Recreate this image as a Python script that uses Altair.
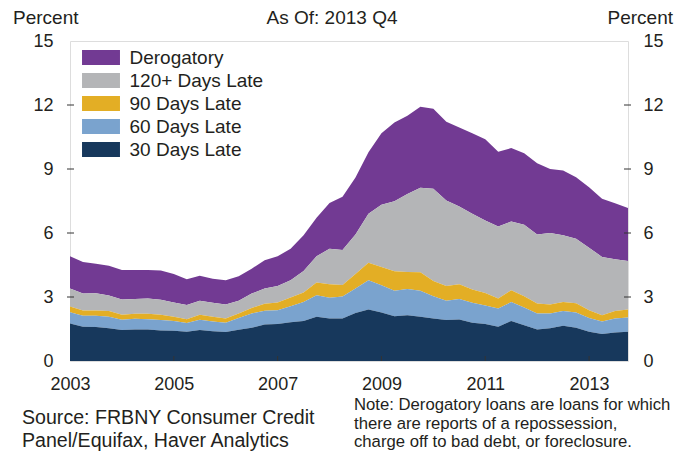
import altair as alt
import pandas as pd

# ---------------- data ----------------
years = list(range(2003, 2014))
quarters = [f"{y}Q{q}" for y in years for q in range(1, 5)]

days30 = [1.76, 1.60, 1.59, 1.54, 1.45, 1.48, 1.48, 1.43, 1.42, 1.37, 1.45,
          1.39, 1.36, 1.46, 1.56, 1.71, 1.73, 1.82, 1.88, 2.07, 1.99, 1.99,
          2.25, 2.41, 2.27, 2.10, 2.15, 2.07, 1.99, 1.92, 1.95, 1.79, 1.73,
          1.60, 1.88, 1.68, 1.48, 1.53, 1.65, 1.56, 1.37, 1.26, 1.34, 1.37]
days60 = [0.53, 0.52, 0.53, 0.53, 0.48, 0.50, 0.48, 0.49, 0.45, 0.41, 0.48,
          0.46, 0.43, 0.55, 0.67, 0.64, 0.65, 0.75, 0.89, 1.01, 0.97, 1.03,
          1.15, 1.38, 1.28, 1.19, 1.23, 1.22, 1.05, 0.90, 0.96, 0.94, 0.87,
          0.86, 0.88, 0.83, 0.75, 0.70, 0.69, 0.71, 0.65, 0.59, 0.65, 0.67]
days90 = [0.26, 0.25, 0.25, 0.27, 0.24, 0.23, 0.25, 0.25, 0.20, 0.18, 0.24,
          0.22, 0.20, 0.22, 0.26, 0.33, 0.36, 0.41, 0.44, 0.60, 0.64, 0.54,
          0.68, 0.82, 0.86, 0.92, 0.79, 0.87, 0.71, 0.70, 0.69, 0.62, 0.59,
          0.47, 0.56, 0.53, 0.46, 0.42, 0.42, 0.44, 0.36, 0.30, 0.35, 0.37]
days120 = [0.85, 0.79, 0.81, 0.73, 0.71, 0.70, 0.72, 0.70, 0.67, 0.66, 0.65,
           0.66, 0.66, 0.59, 0.67, 0.72, 0.78, 0.81, 1.01, 1.23, 1.66, 1.64,
           1.85, 2.29, 2.91, 3.28, 3.66, 3.96, 4.32, 4.00, 3.64, 3.55, 3.40,
           3.38, 3.22, 3.35, 3.24, 3.35, 3.13, 3.02, 2.93, 2.73, 2.43, 2.28]
derog = [1.51, 1.48, 1.38, 1.40, 1.39, 1.36, 1.34, 1.37, 1.34, 1.21, 1.18,
         1.12, 1.14, 1.15, 1.17, 1.32, 1.39, 1.47, 1.67, 1.80, 2.15, 2.50,
         2.67, 2.88, 3.35, 3.69, 3.67, 3.80, 3.75, 3.69, 3.71, 3.77, 3.81,
         3.50, 3.44, 3.35, 3.34, 3.00, 3.04, 2.88, 2.84, 2.72, 2.63, 2.48]

series_names = ["Derogatory", "120+ Days Late", "90 Days Late",
                "60 Days Late", "30 Days Late"]
series_colors = ["#723A93", "#B4B5B7", "#E3AE25", "#7AA3CE", "#17385C"]
series_values = [derog, days120, days90, days60, days30]

y_ticks = [0, 3, 6, 9, 12, 15]
x_ticks = [2003, 2005, 2007, 2009, 2011, 2013]

title_text = "As Of: 2013 Q4"
unit_text = "Percent"
source_text = "Source: FRBNY Consumer Credit\nPanel/Equifax, Haver Analytics"
note_text = ("Note: Derogatory loans are loans for which\n"
             "there are reports of a repossession,\n"
             "charge off to bad debt, or foreclosure.")

# ---------------- tables ----------------
rows = []
for name, vals in zip(series_names, series_values):
    for q, v in zip(quarters, vals):
        rows.append({"quarter": q,
                     "t": int(q[:4]) + (int(q[-1]) - 1) / 4,
                     "series": name,
                     "ord": len(series_names) - series_names.index(name),
                     "value": v})
df = pd.DataFrame(rows)

W, H = 558, 320
FONT = "Liberation Sans"
TXT = "#231F20"

xscale = alt.Scale(domain=[2003, 2013.75], nice=False, zero=False)
yscale = alt.Scale(domain=[0, 15], nice=False)

# wide rectangle swatch (38 x 15 px when symbolSize = 225)
rect_path = "M-2.53,-1L2.53,-1L2.53,1L-2.53,1Z"

area = alt.Chart(df).mark_area(interpolate="linear").encode(
    x=alt.X("t:Q", scale=xscale,
            axis=alt.Axis(values=x_ticks, format="d", title=None, ticks=False,
                          domain=False, grid=False, labelFontSize=18,
                          labelColor=TXT, labelFont=FONT, labelPadding=14,
                          labelFlush=False)),
    y=alt.Y("value:Q", stack="zero", scale=yscale,
            axis=alt.Axis(values=y_ticks, title=None, ticks=False, domain=False,
                          grid=False, labelFontSize=18, labelColor=TXT,
                          labelFont=FONT, labelPadding=17, orient="left",
                          labelFlush=False)),
    color=alt.Color("series:N",
                    scale=alt.Scale(domain=series_names, range=series_colors),
                    legend=alt.Legend(title=None, orient="none", legendX=21.5,
                                      legendY=7, symbolType=rect_path,
                                      symbolSize=225, symbolStrokeWidth=0,
                                      symbolOpacity=1,
                                      labelFontSize=19, labelFont=FONT,
                                      labelColor=TXT, labelOffset=19,
                                      rowPadding=3, padding=0)),
    order=alt.Order("ord:Q", sort="ascending"),
)

ydf = pd.DataFrame({"yv": y_ticks[1:-1]})
xdf = pd.DataFrame({"xv": x_ticks[1:]})

left_ticks = alt.Chart(ydf).mark_rule(color="#333333", strokeWidth=1).encode(
    y=alt.Y("yv:Q", scale=yscale, axis=None),
    x=alt.value(-3), x2=alt.value(4))

right_ticks = alt.Chart(pd.DataFrame({"yv": y_ticks})).mark_rule(
    color="#333333", strokeWidth=1).encode(
    y=alt.Y("yv:Q", scale=yscale,
            axis=alt.Axis(values=y_ticks, title=None, ticks=False, domain=False,
                          grid=False, labelFontSize=18, labelColor=TXT,
                          labelFont=FONT, labelPadding=15, orient="right",
                          labelFlush=False)),
    x=alt.value(W - 4), x2=alt.value(W + 3),
    opacity=alt.condition("datum.yv > 0 && datum.yv < 15", alt.value(1),
                          alt.value(0)))

bottom_ticks = alt.Chart(xdf).mark_rule(color="#333333", strokeWidth=1).encode(
    x=alt.X("xv:Q", scale=xscale),
    y=alt.value(H - 5), y2=alt.value(H))

def label(text, x, y, align="left", size=19, line_height=23):
    return alt.Chart(pd.DataFrame({"s": [text]})).mark_text(
        align=align, baseline="alphabetic", fontSize=size, font=FONT,
        color=TXT, lineBreak="\n", lineHeight=line_height).encode(
        text="s:N", x=alt.value(x), y=alt.value(y))

title_l = label(title_text, 262, -17, align="center")
pct_left = label(unit_text, -57, -17)
pct_right = label(unit_text, W + 45, -17, align="right")
source_l = label(source_text, -48, 383, size=19.6, line_height=23)
note_l = label(note_text, 284, 369, size=16.7, line_height=18.5)

chart = alt.layer(
    area, left_ticks, right_ticks, bottom_ticks,
    title_l, pct_left, pct_right, source_l, note_l
).resolve_axis(y="independent").properties(
    width=W, height=H,
    autosize=alt.AutoSizeParams(type="none"),
    padding={"left": 62, "top": 33, "right": 46, "bottom": 90},
).configure_view(stroke="#231F20", strokeWidth=1.2).configure(
    background="white")

chart.save("out.html", embed_options={"renderer": "svg", "actions": False})
